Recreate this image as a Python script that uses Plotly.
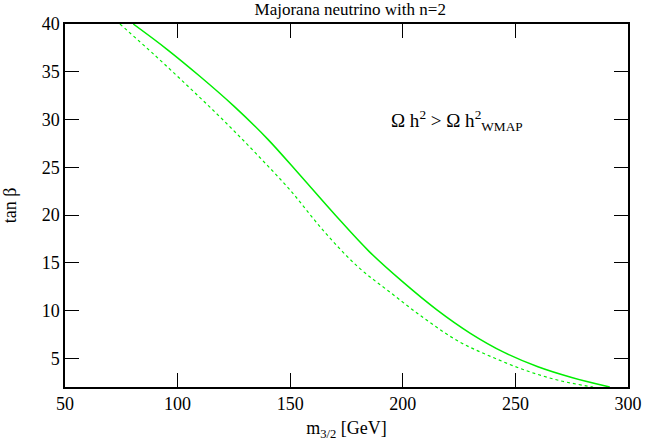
import plotly.graph_objects as go

# Solid curve (upper)
m_solid = [80.3, 95, 110, 125, 140, 155, 170, 185, 200, 215, 230, 245, 260, 275, 291.9]
tb_solid = [40.0, 37.4, 34.5, 31.4, 27.95, 24.0, 20.0, 16.2, 13.0, 10.1, 7.62, 5.62, 4.12, 3.0, 2.0]

# Dotted curve (lower)
m_dot = [74.4, 90, 105, 120, 135, 150, 165, 180, 195, 210, 225, 240, 255, 270, 284.5]
tb_dot = [40.0, 36.7, 33.4, 30.0, 26.4, 22.6, 18.3, 14.6, 11.8, 9.1, 6.75, 5.1, 3.7, 2.65, 2.0]

x_ticks = [50, 100, 150, 200, 250, 300]
y_ticks = [5, 10, 15, 20, 25, 30, 35, 40]

FONT = "Liberation Serif, Times New Roman, serif"

fig = go.Figure()
fig.add_trace(go.Scatter(x=m_solid, y=tb_solid, mode="lines",
                         line=dict(color="#00ee00", width=1.5, shape="spline", smoothing=1.0),
                         showlegend=False))
fig.add_trace(go.Scatter(x=m_dot, y=tb_dot, mode="lines",
                         line=dict(color="#00ee00", width=1.2, dash="dot", shape="spline", smoothing=1.0),
                         showlegend=False))

axis_common = dict(showgrid=False, zeroline=False, showline=True, linecolor="black",
                   linewidth=1.5, mirror="allticks", ticks="inside", ticklen=14,
                   tickwidth=1.2, tickcolor="black", automargin=False,
                   tickfont=dict(family=FONT, size=18, color="black"))

fig.update_xaxes(range=[50, 300], tickvals=x_ticks,
                 title=dict(text="m<sub>3/2</sub> [GeV]", font=dict(family=FONT, size=18, color="black"), standoff=8),
                 **axis_common)
fig.update_yaxes(range=[2, 40], tickvals=y_ticks,
                 title=dict(text="tan β", font=dict(family=FONT, size=18, color="black"), standoff=21),
                 **axis_common)

fig.add_annotation(x=0.575, y=0.735, xref="paper", yref="paper", xanchor="left", yanchor="middle",
                   text="Ω h<sup>2</sup> > Ω h<sup>2</sup><sub>WMAP</sub>", showarrow=False,
                   font=dict(family=FONT, size=19, color="black"))

fig.update_layout(
    width=645, height=447,
    margin=dict(l=65, r=17, t=24, b=60, autoexpand=False),
    paper_bgcolor="white", plot_bgcolor="white",
    title=dict(text="Majorana neutrino with n=2", x=0.543, xanchor="center", y=0.992, yanchor="top",
               font=dict(family=FONT, size=17, color="black")),
)

fig.write_html("out.html", config={"displayModeBar": False},
               post_script="document.body.style.margin='0';")
